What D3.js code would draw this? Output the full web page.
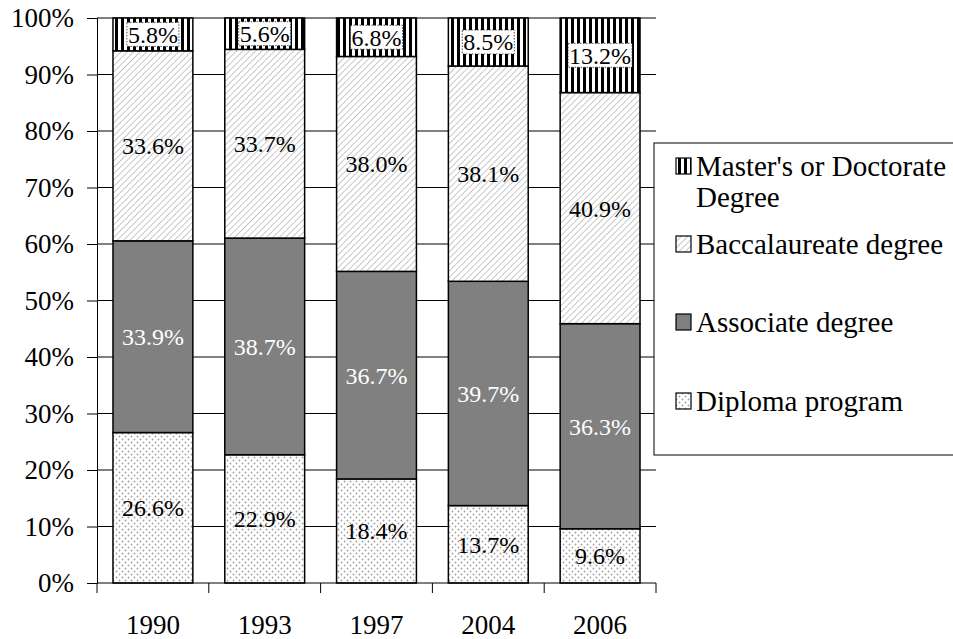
<!DOCTYPE html>
<html>
<head>
<meta charset="utf-8">
<script src="https://cdn.jsdelivr.net/npm/d3@7"></script>
<style>
  body { margin: 0; background: #fff; }
  text { font-family: "Liberation Serif", "Times New Roman", serif; }
</style>
</head>
<body>
<svg id="chart" width="953" height="639"></svg>
<script>
var years = ['1990', '1993', '1997', '2004', '2006'];
var seriesNames = ['Diploma program', 'Associate degree', 'Baccalaureate degree', "Master's or Doctorate Degree"];
var diploma = [26.6, 22.9, 18.4, 13.7, 9.6];
var associate = [33.9, 38.7, 36.7, 39.7, 36.3];
var baccalaureate = [33.6, 33.7, 38.0, 38.1, 40.9];
var masters = [5.8, 5.6, 6.8, 8.5, 13.2];
var yTicks = [0, 0.1, 0.2, 0.3, 0.4, 0.5, 0.6, 0.7, 0.8, 0.9, 1];

var rows = years.map(function(y, i) {
  return { year: y, 'Diploma program': diploma[i], 'Associate degree': associate[i],
    'Baccalaureate degree': baccalaureate[i], "Master's or Doctorate Degree": masters[i] };
});

var svg = d3.select('#chart');
var margin = { left: 97, top: 18, right: 297, bottom: 56 };
var width = 953 - margin.left - margin.right;
var height = 639 - margin.top - margin.bottom;

var defs = svg.append('defs');
// dotted pattern for diploma
var pd = defs.append('pattern').attr('id', 'p-diploma').attr('patternUnits', 'userSpaceOnUse')
  .attr('width', 6).attr('height', 6);
pd.append('rect').attr('width', 6).attr('height', 6).attr('fill', '#fff');
pd.append('circle').attr('cx', 1.5).attr('cy', 1.5).attr('r', 0.9).attr('fill', '#a0a0a0');
pd.append('circle').attr('cx', 4.5).attr('cy', 4.5).attr('r', 0.9).attr('fill', '#a0a0a0');
// diagonal hatch for baccalaureate
var pb = defs.append('pattern').attr('id', 'p-bacc').attr('patternUnits', 'userSpaceOnUse')
  .attr('width', 4.5).attr('height', 4.5).attr('patternTransform', 'rotate(45)');
pb.append('rect').attr('width', 4.5).attr('height', 4.5).attr('fill', '#fff');
pb.append('line').attr('x1', 0).attr('y1', 0).attr('x2', 0).attr('y2', 4.5)
  .attr('stroke', '#bbb').attr('stroke-width', 1.6);
// vertical stripes for masters
var pm = defs.append('pattern').attr('id', 'p-masters').attr('patternUnits', 'userSpaceOnUse')
  .attr('width', 6).attr('height', 6);
pm.append('rect').attr('width', 6).attr('height', 6).attr('fill', '#fff');
pm.append('rect').attr('width', 3).attr('height', 6).attr('fill', '#000');

var fills = {
  'Diploma program': 'url(#p-diploma)',
  'Associate degree': '#808080',
  'Baccalaureate degree': 'url(#p-bacc)',
  "Master's or Doctorate Degree": 'url(#p-masters)'
};
var labelColor = {
  'Diploma program': '#000',
  'Associate degree': '#fff',
  'Baccalaureate degree': '#000',
  "Master's or Doctorate Degree": '#000'
};

var g = svg.append('g').attr('transform', 'translate(' + margin.left + ',' + margin.top + ')');

var x = d3.scaleBand().domain(years).range([0, width]).paddingInner(0.2857).paddingOuter(0.143);
var y = d3.scaleLinear().domain([0, 1]).range([height, 0]);

// gridlines
g.append('g').selectAll('line').data(yTicks.slice(1)).enter().append('line')
  .attr('x1', 0).attr('x2', width)
  .attr('y1', function(d) { return y(d); }).attr('y2', function(d) { return y(d); })
  .attr('stroke', '#000').attr('stroke-width', 1);

var stack = d3.stack().keys(seriesNames).offset(d3.stackOffsetExpand);
var layers = stack(rows);

var layer = g.selectAll('.layer').data(layers).enter().append('g').attr('class', 'layer');
layer.selectAll('rect').data(function(d) { return d.map(function(p) { return { key: d.key, p: p }; }); })
  .enter().append('rect')
  .attr('x', function(d) { return x(d.p.data.year); })
  .attr('width', x.bandwidth())
  .attr('y', function(d) { return y(d.p[1]); })
  .attr('height', function(d) { return y(d.p[0]) - y(d.p[1]); })
  .attr('fill', function(d) { return fills[d.key]; })
  .attr('stroke', '#000').attr('stroke-width', 1.5);

// labels
layers.forEach(function(ly) {
  ly.forEach(function(p) {
    var val = p.data[ly.key];
    var cx = x(p.data.year) + x.bandwidth() / 2;
    var cy = y((p[0] + p[1]) / 2);
    var txt = val.toFixed(1) + '%';
    var t = g.append('text').attr('x', cx).attr('y', cy).attr('dy', '0.35em')
      .attr('text-anchor', 'middle').attr('font-size', 24)
      .attr('fill', labelColor[ly.key]).text(txt);
    if (ly.key === "Master's or Doctorate Degree") {
      var bb = t.node().getBBox();
      g.insert('rect', function() { return t.node(); })
        .attr('x', bb.x - 1).attr('y', cy - 12).attr('width', bb.width + 2).attr('height', 24)
        .attr('fill', '#fff').attr('stroke', '#000').attr('stroke-width', 0.7)
        .attr('stroke-dasharray', '1.5,1.5');
    }
  });
});

// y axis
var yAxis = d3.axisLeft(y).tickValues(yTicks).tickFormat(d3.format('.0%')).tickSize(10).tickPadding(13);
var ya = g.append('g').call(yAxis);
ya.select('.domain').attr('stroke', '#000').attr('stroke-width', 1);
ya.selectAll('.tick line').attr('stroke', '#000');
ya.selectAll('.tick text').attr('font-size', 27).attr('fill', '#000')
  .style('font-family', '"Liberation Serif", serif');

// x axis
var xa = g.append('g').attr('transform', 'translate(0,' + height + ')');
xa.append('line').attr('x1', 0).attr('x2', width).attr('stroke', '#000').attr('stroke-width', 1);
var bounds = years.map(function(yr) { return x(yr) - x.step() * x.paddingInner() / 2; });
bounds.push(width);
xa.selectAll('.xt').data(bounds).enter().append('line')
  .attr('x1', function(d) { return d; }).attr('x2', function(d) { return d; })
  .attr('y1', 0).attr('y2', 10).attr('stroke', '#000');
xa.selectAll('.xl').data(years).enter().append('text')
  .attr('x', function(d) { return x(d) + x.bandwidth() / 2; })
  .attr('y', 51).attr('text-anchor', 'middle').attr('font-size', 27).text(function(d) { return d; });

// legend
var legend = svg.append('g').attr('transform', 'translate(654,143)');
legend.append('rect').attr('width', 310).attr('height', 312).attr('fill', '#fff')
  .attr('stroke', '#000').attr('stroke-width', 1);
var legendItems = [
  { key: "Master's or Doctorate Degree", lines: ["Master's or Doctorate", 'Degree'], y: 23 },
  { key: 'Baccalaureate degree', lines: ['Baccalaureate degree'], y: 101 },
  { key: 'Associate degree', lines: ['Associate degree'], y: 179 },
  { key: 'Diploma program', lines: ['Diploma program'], y: 258 }
];
var li = legend.selectAll('.li').data(legendItems).enter().append('g')
  .attr('transform', function(d) { return 'translate(0,' + d.y + ')'; });
li.append('rect').attr('x', 22).attr('y', -8).attr('width', 15).attr('height', 16)
  .attr('fill', function(d) { return fills[d.key]; }).attr('stroke', '#000').attr('stroke-width', 1.2);
li.each(function(d) {
  var t = d3.select(this).append('text').attr('font-size', 29);
  d.lines.forEach(function(s, i) {
    t.append('tspan').attr('x', 42).attr('y', i * 31).attr('dy', '0.35em').text(s);
  });
});
</script>
</body>
</html>
